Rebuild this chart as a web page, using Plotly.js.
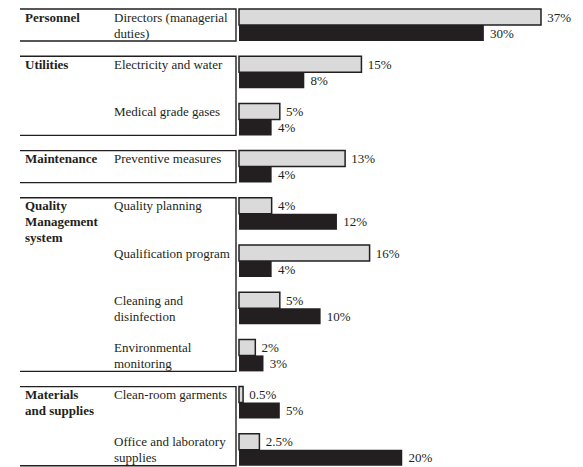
<!DOCTYPE html>
<html>
<head>
<meta charset="utf-8">
<script src="https://cdn.plot.ly/plotly-3.0.1.min.js"></script>
<style>html,body{margin:0;padding:0;background:#fff;}#chart{width:583px;height:467px;}</style>
</head>
<body>
<div id="chart"></div>
<script>
// ---- data ----
const groups = ["Personnel", "Utilities", "Maintenance", "Quality\nManagement\nsystem", "Materials\nand supplies"];
const groupOfItem = [0, 1, 1, 2, 3, 3, 3, 3, 4, 4];
const items = [
  "Directors (managerial\nduties)",
  "Electricity and water",
  "Medical grade gases",
  "Preventive measures",
  "Quality planning",
  "Qualification program",
  "Cleaning and\ndisinfection",
  "Environmental\nmonitoring",
  "Clean-room garments",
  "Office and laboratory\nsupplies"
];
const greyValues = [37, 15, 5, 13, 4, 16, 5, 2, 0.5, 2.5];
const blackValues = [30, 8, 4, 4, 12, 4, 10, 3, 5, 20];

// ---- geometry ----
const W = 583, H = 467;
const k = 302 / 37;          // px per percent
const zeroPx = 239;
const xmin = -zeroPx / k, xmax = xmin + W / k;
const pitch = 47.2;
const bw = 16 / pitch;
const yTop = -25 / pitch, yBot = yTop + H / pitch;
const pxX = p => xmin + p / k;

const ink = "#231f20";
const font = {family: "Liberation Serif, Times New Roman, serif", size: 13, color: ink};
const rows = items.map((_, i) => i);

const traces = [
  {type: "bar", orientation: "h", y: rows, x: greyValues, offset: -bw, width: bw,
   marker: {color: "#dadada", line: {color: ink, width: 1.5}},
   text: greyValues.map(v => "\u00a0" + v + "%"), textposition: "outside", cliponaxis: false,
   constraintext: "none", textfont: font, hoverinfo: "skip"},
  {type: "bar", orientation: "h", y: rows, x: blackValues, offset: 0, width: bw,
   marker: {color: ink, line: {color: ink, width: 0}},
   text: blackValues.map(v => "\u00a0" + v + "%"), textposition: "outside", cliponaxis: false,
   constraintext: "none", textfont: font, hoverinfo: "skip"}
];

const annotations = [];
items.forEach((lab, i) => {
  lab.split("\n").forEach((line, j) => {
    annotations.push({xref: "x", yref: "y", x: pxX(112), y: i - bw / 2 + j * bw,
      xanchor: "left", yanchor: "middle", showarrow: false, text: line, font: font});
  });
});
const shapes = [];
groups.forEach((g, gi) => {
  const r = rows.filter(i => groupOfItem[i] === gi);
  const first = Math.min(...r), last = Math.max(...r);
  g.split("\n").forEach((line, j) => {
    annotations.push({xref: "x", yref: "y", x: pxX(23), y: first - bw / 2 + j * bw,
      xanchor: "left", yanchor: "middle", showarrow: false, text: "<b>" + line + "</b>", font: font});
  });
  const xl = pxX(20), xr = pxX(236);
  const yt = first - bw, yb = last + bw;
  shapes.push({type: "path", xref: "x", yref: "y",
    path: `M ${xl},${yt} L ${xr},${yt} L ${xr},${yb} L ${xl},${yb}`,
    line: {color: ink, width: 1.4}});
});

const layout = {
  width: W, height: H, margin: {l: 0, r: 0, t: 0, b: 0},
  paper_bgcolor: "#fff", plot_bgcolor: "#fff",
  barmode: "overlay", showlegend: false,
  xaxis: {range: [xmin, xmax], visible: false, fixedrange: true},
  yaxis: {range: [yBot, yTop], visible: false, fixedrange: true},
  annotations: annotations, shapes: shapes, font: font
};
Plotly.newPlot("chart", traces, layout, {staticPlot: true, displayModeBar: false});
</script>
</body>
</html>
